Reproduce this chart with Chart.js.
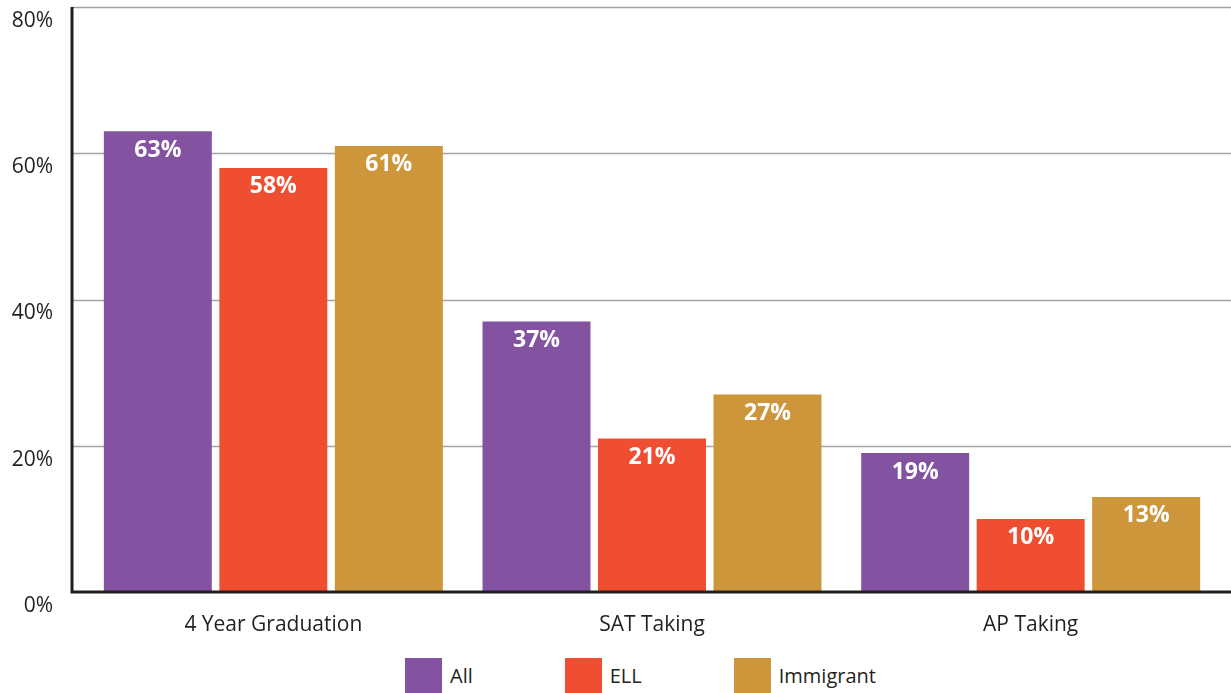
<!DOCTYPE html>
<html>
<head>
<meta charset="utf-8">
<script src="https://cdn.jsdelivr.net/npm/chart.js@4"></script>
<style>
  html, body { margin: 0; padding: 0; background: #fff; overflow: hidden; }
  #wrap { width: 1231px; height: 650px; position: relative; }
  #legend {
    width: 1231px; height: 43px; box-sizing: border-box;
    padding: 8px 0 0 405px;
    display: flex; gap: 92px;
    font: 20px 'Open Sans', sans-serif; color: #231f20;
  }
  #legend .item { display: flex; align-items: center; gap: 8px; height: 35px; }
  #legend .box { width: 37px; height: 35px; }
</style>
</head>
<body>
<div id="wrap"><canvas id="chart"></canvas></div>
<div id="legend"></div>
<script>
const categories = ['4 Year Graduation', 'SAT Taking', 'AP Taking'];
const seriesNames = ['All', 'ELL', 'Immigrant'];
const allValues = [63, 37, 19];
const ellValues = [58, 21, 10];
const immigrantValues = [61, 27, 13];
const yTicks = [0, 20, 40, 60, 80];

const COLORS = ['#8352a1', '#f04e30', '#ce963a'];
const INK = '#231f20';
const FONT = "'Open Sans', sans-serif";

// grid lines and axis lines run wider than the plot area
const axesPlugin = {
  id: 'axes',
  beforeDatasetsDraw(chart) {
    const { ctx, scales: { y } } = chart;
    const left = chart.chartArea.left - 12;
    ctx.save();
    ctx.strokeStyle = '#a3a3a3';
    ctx.lineWidth = 1.5;
    yTicks.slice(1).forEach(v => {
      const py = Math.round(y.getPixelForValue(v)) + 0.5;
      ctx.beginPath();
      ctx.moveTo(left, py);
      ctx.lineTo(chart.width, py);
      ctx.stroke();
    });
    ctx.restore();
  },
  afterDatasetsDraw(chart) {
    const { ctx, scales: { y } } = chart;
    const left = chart.chartArea.left - 12;
    const top = y.getPixelForValue(80);
    const bottom = y.getPixelForValue(0);
    ctx.save();
    ctx.strokeStyle = INK;
    ctx.lineWidth = 3;
    ctx.beginPath();
    ctx.moveTo(left, top);
    ctx.lineTo(left, bottom + 1.5);
    ctx.moveTo(left - 1.5, bottom);
    ctx.lineTo(chart.width, bottom);
    ctx.stroke();
    ctx.restore();
  }
};

const valueLabels = {
  id: 'valueLabels',
  afterDatasetsDraw(chart) {
    const { ctx } = chart;
    ctx.save();
    ctx.fillStyle = '#fff';
    ctx.font = `bold 23px ${FONT}`;
    ctx.textAlign = 'center';
    ctx.textBaseline = 'middle';
    chart.data.datasets.forEach((ds, i) => {
      chart.getDatasetMeta(i).data.forEach((bar, j) => {
        ctx.fillText(ds.data[j] + '%', bar.x, bar.y + 19);
      });
    });
    ctx.restore();
  }
};

const chart = new Chart(document.getElementById('chart'), {
  type: 'bar',
  data: {
    labels: categories,
    datasets: [allValues, ellValues, immigrantValues].map((data, i) => ({
      label: seriesNames[i],
      data,
      backgroundColor: COLORS[i]
    }))
  },
  options: {
    responsive: true,
    maintainAspectRatio: false,
    animation: false,
    categoryPercentage: 0.915,
    barPercentage: 0.935,
    layout: { padding: { top: 7, right: 11, left: 0, bottom: 0 } },
    plugins: {
      tooltip: { enabled: false },
      legend: { display: false }
    },
    scales: {
      x: {
        afterFit(scale) {
          scale.height = 58;
          scale.paddingLeft = 0;
          scale.paddingRight = 0;
        },
        grid: { display: false, drawTicks: false },
        border: { display: false },
        ticks: { color: INK, padding: 20, font: { family: FONT, size: 21 } }
      },
      y: {
        min: 0,
        max: 80,
        afterFit(scale) {
          scale.width = 84;
          scale.paddingTop = 0;
          scale.paddingBottom = 0;
        },
        afterBuildTicks(scale) { scale.ticks = yTicks.map(v => ({ value: v })); },
        grid: { display: false, drawTicks: false },
        border: { display: false },
        ticks: {
          color: INK,
          padding: 31,
          labelOffset: 14,
          font: { family: FONT, size: 21 },
          callback: v => v + '%'
        }
      }
    }
  },
  plugins: [axesPlugin, valueLabels]
});

// legend built from the chart's own datasets
const legend = document.getElementById('legend');
chart.data.datasets.forEach(ds => {
  const item = document.createElement('div');
  item.className = 'item';
  const box = document.createElement('span');
  box.className = 'box';
  box.style.background = ds.backgroundColor;
  const text = document.createElement('span');
  text.textContent = ds.label;
  item.append(box, text);
  legend.appendChild(item);
});
</script>
</body>
</html>
